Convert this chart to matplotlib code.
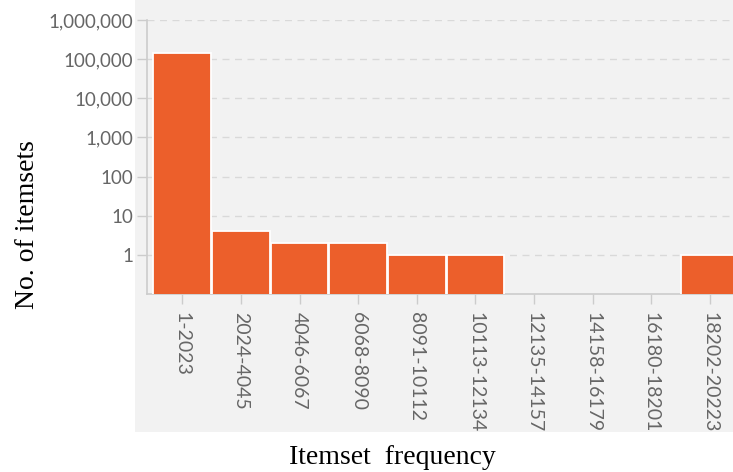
import numpy as np
import matplotlib.pyplot as plt
from matplotlib.patches import Rectangle
from matplotlib.ticker import FixedLocator, FuncFormatter, NullLocator

# data
bins = ['1-2023', '2024-4045', '4046-6067', '6068-8090', '8091-10112',
        '10113-12134', '12135-14157', '14158-16179', '16180-18201', '18202-20223']
counts = [145000, 4, 2, 2, 1, 1, 0, 0, 0, 1]

bar_color = '#ec5f2b'
panel = '#f2f2f2'
grey_txt = '#666666'
line_grey = '#cccccc'

fig = plt.figure(figsize=(7.33, 4.72), dpi=100)
fig.patches.append(Rectangle((135 / 733, 1 - 432 / 472), 1 - 135 / 733, 432 / 472,
                             transform=fig.transFigure, facecolor=panel,
                             edgecolor='none', zorder=-1))

ax = fig.add_axes([147 / 733, 1 - 294 / 472, 1 - 147 / 733, (294 - 20) / 472])
ax.set_facecolor(panel)
ax.set_zorder(2)

x = np.arange(len(bins))
vals = np.array(counts, dtype=float)
vals[vals == 0] = np.nan
ax.bar(x, vals, width=0.98, color=bar_color, edgecolor='white', linewidth=1.3, zorder=3)

ax.set_yscale('log')
ax.set_ylim(0.1, 1e6)
ax.set_xlim(-0.6, 9.39)

yt = [1, 10, 100, 1000, 10000, 100000, 1000000]
ax.yaxis.set_major_locator(FixedLocator(yt))
ax.yaxis.set_minor_locator(NullLocator())
ax.yaxis.set_major_formatter(FuncFormatter(lambda v, p: f'{int(v):,}'))
ax.grid(axis='y', color='#d9d9d9', linestyle=(0, (5, 4)), linewidth=1, zorder=1)

ax.set_xticks(x)
ax.set_xticklabels(bins, rotation=-90, fontfamily='Lato', fontsize=14, color=grey_txt)
for lab in ax.get_yticklabels():
    lab.set_fontfamily('Lato')
    lab.set_fontsize(13.5)
    lab.set_color(grey_txt)

ax.tick_params(axis='both', color=line_grey, length=7, width=1)
ax.tick_params(axis='x', pad=6)
ax.tick_params(axis='y', pad=3)

for s in ['top', 'right']:
    ax.spines[s].set_visible(False)
for s in ['left', 'bottom']:
    ax.spines[s].set_color(line_grey)
    ax.spines[s].set_linewidth(1.2)

fig.text(28 / 733, 1 - 225 / 472, 'No. of itemsets', rotation=90, ha='center',
         va='center', fontfamily='Liberation Serif', fontsize=20)
fig.text(392 / 733, 1 - 457 / 472, 'Itemset  frequency', ha='center', va='center',
         fontfamily='Liberation Serif', fontsize=20)

fig.savefig('out.png', dpi=100)
